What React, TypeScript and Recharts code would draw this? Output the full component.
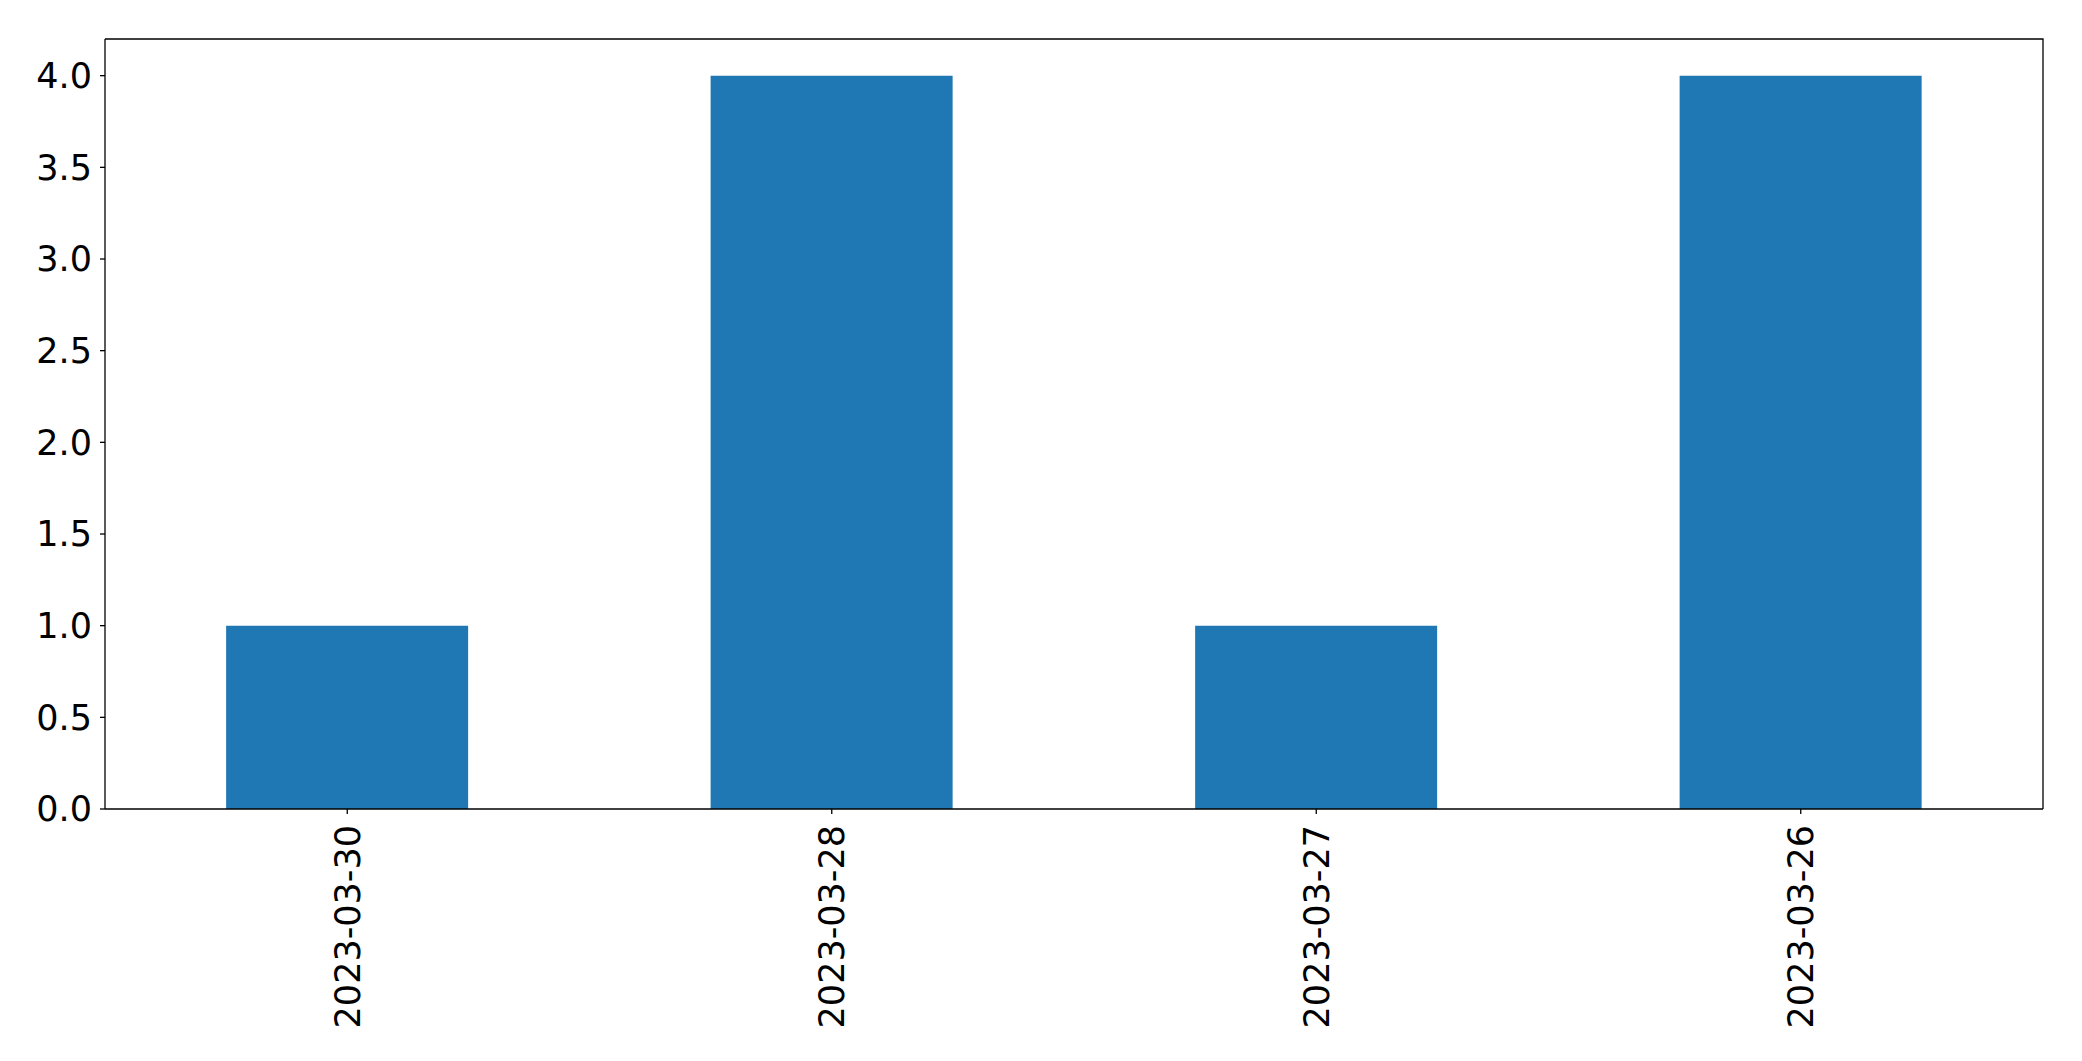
import * as R from 'recharts';
import { BarChart, Bar, XAxis, YAxis, Customized } from 'recharts';

const dates = ['2023-03-30', '2023-03-28', '2023-03-27', '2023-03-26'];
const counts = [1, 4, 1, 4];
const yTicks = [0, 0.5, 1, 1.5, 2, 2.5, 3, 3.5, 4];

const data = dates.map((d, i) => ({ date: d, count: counts[i] }));

const FONT = '"DejaVu Sans", sans-serif';
const FONT_SIZE = 35;

function DateTick(props: any) {
  const { x, y, payload } = props;
  return (
    <g transform={`translate(${x},${y})`}>
      <text
        transform="rotate(-90)"
        textAnchor="end"
        dy="0.36em"
        fill="#000"
        fontFamily={FONT}
        fontSize={FONT_SIZE}
      >
        {payload.value}
      </text>
    </g>
  );
}

// top and right spines of the plot box
function Frame() {
  const usePlotArea = (R as any).usePlotArea;
  const area = usePlotArea ? usePlotArea() : null;
  if (!area) return null;
  const { x, y, width, height } = area;
  return (
    <path
      d={`M${x},${y} L${x + width},${y} L${x + width},${y + height}`}
      fill="none"
      stroke="#000"
      strokeWidth={1.3}
    />
  );
}

export default function App() {
  return (
    <div style={{ position: 'absolute', left: 0, top: 0, background: '#fff' }}>
      <BarChart
        width={2082}
        height={1061}
        data={data}
        margin={{ top: 39, right: 39, bottom: 0, left: 0 }}
        barCategoryGap="25%"
      >
        <XAxis
          dataKey="date"
          height={252}
          axisLine={{ stroke: '#000', strokeWidth: 1.3 }}
          tickLine={{ stroke: '#000', strokeWidth: 1.3 }}
          tickSize={5}
          tickMargin={11}
          tick={<DateTick />}
          interval={0}
        />
        <YAxis
          width={105}
          domain={[0, 4.2]}
          ticks={yTicks}
          allowDataOverflow
          tickFormatter={(v: number) => v.toFixed(1)}
          axisLine={{ stroke: '#000', strokeWidth: 1.3 }}
          tickLine={{ stroke: '#000', strokeWidth: 1.3 }}
          tickSize={5}
          tickMargin={8}
          tick={{ fill: '#000', fontFamily: FONT, fontSize: FONT_SIZE }}
        />
        <Bar dataKey="count" fill="#1f77b4" isAnimationActive={false} />
        <Customized component={<Frame />} />
      </BarChart>
    </div>
  );
}
